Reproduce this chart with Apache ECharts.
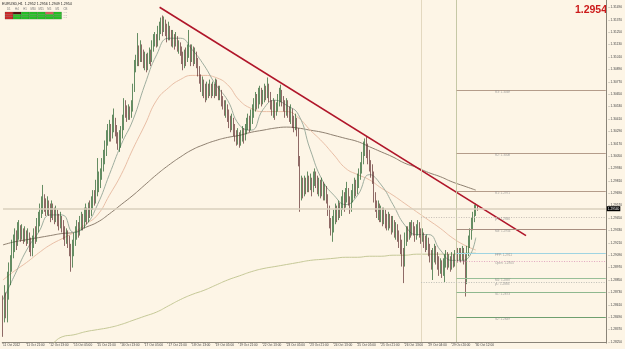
<!DOCTYPE html>
<html><head><meta charset="utf-8">
<script src="https://cdn.jsdelivr.net/npm/echarts@6/dist/echarts.min.js"></script>
<style>html,body{margin:0;padding:0;background:#fdf5e6;}#c{width:625px;height:349px;}</style>
</head><body><div id="c"></div>
<script>
// ---- DATA (prices in pips above 1.2800) ----
const xTickLabels = ["11 Oct 2012","11 Oct 21:00","12 Oct 13:00","15 Oct 05:00","15 Oct 21:00","16 Oct 13:00","17 Oct 05:00","17 Oct 21:00","18 Oct 13:00","19 Oct 05:00","19 Oct 21:00","22 Oct 13:00","23 Oct 05:00","23 Oct 21:00","24 Oct 13:00","25 Oct 05:00","25 Oct 21:00","26 Oct 13:00","29 Oct 04:00","29 Oct 20:00","30 Oct 12:00"];
const openFirst = 66;
const closes = [48,66,56,70,85,97,114,119,126,122,131,135,128,133,126,130,124,128,119,114,122,129,126,137,143,151,155,162,158,153,159,153,149,155,151,145,149,143,139,143,137,131,126,130,124,116,102,114,124,130,135,131,139,143,139,147,149,145,153,151,158,164,162,172,176,180,186,193,201,211,220,226,230,224,235,238,230,222,216,220,225,235,254,250,245,248,246,251,269,290,296,302,298,308,303,296,300,292,298,303,300,310,315,319,313,323,327,333,329,335,327,321,329,323,317,321,315,319,311,313,308,300,294,302,298,306,311,300,306,298,302,294,288,280,273,277,269,263,271,267,273,267,271,265,275,269,263,267,259,255,250,253,244,240,234,238,230,224,220,226,219,222,228,224,230,234,238,232,242,248,251,259,255,263,267,259,263,269,265,271,263,255,250,255,248,251,259,263,267,259,253,248,255,250,244,248,238,234,240,230,201,167,177,170,178,174,182,176,180,174,182,186,180,174,178,172,176,168,172,164,153,141,133,137,145,151,147,155,151,159,164,157,166,172,162,155,164,170,176,172,180,186,191,201,211,215,209,203,195,190,186,166,157,151,155,147,151,145,149,143,139,145,141,135,139,131,135,128,124,118,108,102,124,131,128,135,131,137,133,128,133,137,131,126,130,122,118,124,116,108,102,106,114,108,102,97,100,95,98,102,106,100,104,98,106,102,108,112,106,110,108,112,106,87,112,120,128,137,145,151,155,154];
const highs = [70,80,73,93,102,109,124,129,135,133,141,143,138,139,135,137,133,135,131,126,128,135,137,145,151,159,166,177,168,164,166,162,159,162,159,155,157,153,149,151,147,143,137,135,133,128,120,124,131,137,143,141,147,151,149,155,159,155,160,162,166,172,172,182,203,190,193,203,211,220,230,236,240,236,245,251,242,235,228,230,234,245,261,259,254,255,253,259,275,298,303,324,312,317,313,308,306,304,305,310,308,317,323,325,323,331,335,339,341,340,337,333,335,331,327,327,323,325,321,317,315,311,306,308,310,313,327,313,313,311,310,306,300,292,284,282,279,275,277,275,279,275,277,275,280,279,273,273,269,263,259,259,255,250,244,246,242,236,230,232,228,230,234,232,236,242,246,244,250,255,261,267,265,271,273,271,269,275,273,281,275,267,259,261,259,257,265,271,274,269,263,259,261,259,253,255,251,244,246,242,232,205,186,184,186,184,190,186,188,184,190,193,190,186,184,182,184,180,178,176,168,157,145,147,153,159,157,162,160,166,172,170,174,180,174,166,172,178,184,182,188,193,199,209,219,222,224,217,211,201,197,190,170,162,162,159,157,155,155,153,149,151,149,147,147,143,141,139,133,129,124,116,131,137,137,141,141,143,141,137,139,143,141,135,135,131,128,129,126,120,114,116,120,118,112,108,106,104,106,110,114,112,110,108,112,110,114,118,116,116,116,118,116,110,118,128,135,145,151,158,159,157];
const lows = [30,44,48,44,66,80,93,106,112,114,118,124,122,124,120,122,118,120,112,108,108,116,120,122,131,137,145,149,151,147,148,147,141,145,143,139,141,137,133,135,131,124,118,120,116,108,93,97,108,118,124,126,128,133,133,135,141,139,141,145,147,153,157,159,166,170,174,182,190,197,205,215,219,219,222,228,224,217,211,209,213,222,230,242,238,240,240,242,248,267,286,292,292,296,296,290,288,286,288,294,292,296,306,311,310,311,317,323,321,325,321,315,317,317,311,310,308,311,306,304,302,294,288,290,292,296,300,292,296,292,294,290,282,275,267,263,261,257,259,261,263,261,263,261,263,263,259,259,253,250,244,242,238,232,228,230,224,219,215,216,213,215,219,217,220,226,230,228,230,236,242,248,250,251,255,253,255,257,259,261,257,250,244,242,240,244,248,253,257,253,248,242,244,242,238,236,232,228,230,224,195,151,162,164,166,168,170,170,172,166,170,176,174,168,166,164,166,162,162,159,147,135,128,122,131,139,141,143,145,147,153,151,155,160,157,149,151,160,164,166,168,174,182,188,197,205,203,197,190,184,178,160,151,145,143,141,141,137,139,135,133,133,135,129,131,126,124,122,116,110,98,82,98,118,122,124,126,128,128,122,124,128,126,120,122,116,112,114,108,102,95,85,102,100,95,89,91,87,89,83,97,95,97,93,95,97,98,102,102,104,102,104,100,69,81,108,116,124,133,141,147,152];
// moving averages read every 8 bars
const maFast = [66,90,114,131,148,148,131,138,158,187,216,240,274,303,319,319,308,293,274,259,235,230,250,259,254,245,211,182,167,158,167,187,177,158,138,129,129,114,104,104,126];
const maMid  = [85,94,102,111,119,125,131,139,148,167,187,212,235,259,271,279,283,283,281,274,259,251,248,248,248,242,230,219,206,193,187,182,174,167,159,151,143,135,126,119,114];
const maSlow = [119,122,124,126,128,130,131,136,141,149,158,167,177,187,196,204,211,216,220,223,225,228,230,232,233,232,230,228,225,222,219,214,209,204,198,194,189,185,180,176,172];
const maLong = [2,7,12,17,22,30,32,35,37,39,42,46,50,54,60,66,71,75,80,85,89,93,96,98,100,102,104,105,106,107,107,108,108,109,109,110,110,110,110,111,111];
const trendBars = [106, 354];
const trendPrices = [1.3149, 1.2928];
const pivotNames  = ['R3','R2','R1','yH','M3','FPP','Open','M1','yL','S1','S2'];
const pivotValues = [1.3069,1.3008,1.2971,1.2946,1.2934,1.2911,1.2903,1.2887,1.2883,1.2873,1.2849];
const bid = 1.2954;
const quote = 'EURUSD,H1  1.2952 1.2956 1.2949 1.2954';
const tfNames = ['D1','H4','H1','M30','M15','M5','M1'];
const tfSignal = [['r','k','g','g','g','s','g'],['r','g','g','g','g','g','g'],['r','g','g','g','g','g','g']];

// ---- BUILD ----
const toPrice = p => +(1.28 + p / 10000).toFixed(5);
const N = 409;
const cats = Array.from({length: N}, (_, i) => String(i));
const candles = closes.map((c, i) => {
  const o = i === 0 ? openFirst : closes[i - 1];
  const h = Math.max(highs[i], o, c), l = Math.min(lows[i], o, c);
  return [toPrice(o), toPrice(c), toPrice(l), toPrice(h)];
});
const maIdx = maFast.map((_, k) => String(k * 8));
const maLine = vals => vals.map((v, k) => [maIdx[k], toPrice(v)]);

const pivotStyle = {
  R3:{c:'#b49c8a',t:'solid',s:'307'}, R2:{c:'#b49c8a',t:'solid',s:'307'}, R1:{c:'#b49c8a',t:'solid',s:'307'},
  yH:{c:'#c4bcb4',t:[1,1.5],s:'283'}, M3:{c:'#a88e80',t:'solid',s:'307'}, FPP:{c:'#9fd4e2',t:'solid',s:'307'},
  Open:{c:'#e2a6bf',t:[1,1.5],s:'307'}, M1:{c:'#98bf98',t:'solid',s:'307'}, yL:{c:'#bdbdb5',t:[1,1.5],s:'283'},
  S1:{c:'#8fb88f',t:'solid',s:'307'}, S2:{c:'#6f9f6f',t:'solid',s:'307'}
};
const FONT = 'Liberation Sans, Arial, sans-serif';
const sigColor = {r:'#d42b2b', k:'#5c1212', g:'#26c626', s:'#e06464'};

const graphics = [
  {type:'text', left:2, top:1.5, style:{text:quote, fontSize:3.6, fontFamily:FONT, fill:'#222'}},
  {type:'text', right:18, top:5, style:{text:bid.toFixed(4), fontSize:10.5, fontWeight:'bold', fontFamily:FONT, fill:'#cc1a1a'}}
];
tfNames.forEach((n, c) => {
  graphics.push({type:'text', x:5 + c*8.1 + 3.8, y:7.8, style:{text:n, fontSize:2.8, fontFamily:FONT, fill:'#777', align:'center'}});
  tfSignal.forEach((row, r) => {
    graphics.push({type:'rect', shape:{x:5 + c*8.1, y:12 + r*2.4, width:8, height:2.3},
      style:{fill:sigColor[row[c]], stroke:'rgba(40,40,40,0.45)', lineWidth:0.4}});
  });
});
graphics.push({type:'text', x:63.5, y:7.8, style:{text:'CB', fontSize:2.8, fontFamily:FONT, fill:'#777'}});
['0.3','0.2','0.1'].forEach((t, r) => graphics.push({type:'text', x:63.5, y:11.8 + r*2.4, style:{text:t, fontSize:2.4, fontFamily:FONT, fill:'#aaa'}}));

const pivotMarks = pivotNames.map((n,k)=>[
  {coord:[pivotStyle[n].s, pivotValues[k]], lineStyle:{color:pivotStyle[n].c, width:1, type:pivotStyle[n].t}, label:{show:false}},
  {coord:['408', pivotValues[k]]}
]);
pivotMarks.push([
  {coord:['0', bid], lineStyle:{color:'#d9cfbd', width:1.6, type:'solid'},
    label:{show:true, position:'end', distance:1, formatter:bid.toFixed(5), backgroundColor:'#000', color:'#fff',
      fontSize:3.2, fontFamily:FONT, padding:[1,1]}},
  {coord:['408', bid]}
]);

const chart = echarts.init(document.getElementById('c'), null, {renderer:'canvas'});
chart.setOption({
  animation: false,
  backgroundColor: '#fdf5e6',
  grid: {left:0, right:14, top:0, bottom:7, containLabel:false},
  graphic: graphics,
  xAxis: {
    type:'category', data:cats, boundaryGap:true,
    axisLine:{show:true, lineStyle:{color:'#8a8478', width:1}},
    axisTick:{show:true, length:1.5, interval:(i)=>i%16===0 && i/16 < xTickLabels.length, lineStyle:{color:'#8a8478'}},
    axisLabel:{interval:(i)=>i%16===0 && i/16 < xTickLabels.length, formatter:(v,i)=>xTickLabels[i/16]||'',
      fontSize:3.2, fontFamily:FONT, color:'#444', align:'left', margin:1.2},
    splitLine:{show:false}
  },
  yAxis: {
    type:'value', position:'right', min:1.2825, max:1.3156, interval:0.0003, scale:true,
    axisLine:{show:true, lineStyle:{color:'#8a8478', width:1}},
    axisTick:{show:false}, splitLine:{show:false},
    axisLabel:{fontSize:3.2, fontFamily:FONT, color:'#444', margin:2,
      formatter:(v)=>{const k=Math.round((v-1.2825)/0.0003); return k%4===0 ? '- ' + v.toFixed(5) : '';}}
  },
  series: [
    {type:'line', name:'maLong', data:maLine(maLong), smooth:true, showSymbol:false, clip:true, z:2,
      lineStyle:{color:'#c5c897', width:1}},
    {type:'line', name:'maSlow', data:maLine(maSlow), smooth:true, showSymbol:false, clip:true, z:2,
      lineStyle:{color:'#8e8070', width:1}},
    {type:'line', name:'maMid', data:maLine(maMid), smooth:true, showSymbol:false, clip:true, z:2,
      lineStyle:{color:'#e9bfa6', width:1}},
    {type:'line', name:'maFast', data:maLine(maFast), smooth:true, showSymbol:false, clip:true, z:2,
      lineStyle:{color:'#9fae9f', width:1}},
    {type:'candlestick', data:candles, barWidth:1.3, z:3,
      itemStyle:{color:'#22602a', color0:'#5e2e2e', borderColor:'#22602a', borderColor0:'#5e2e2e', borderWidth:0.7},
      markLine:{symbol:['none','none'], silent:true, animation:false,
        data:[
          {xAxis:'283', lineStyle:{color:'#e3d8bf', width:1, type:'solid'}, label:{show:false}},
          {xAxis:'307', lineStyle:{color:'#c6c8a6', width:1, type:'solid'}, label:{show:false}}
        ]}
    },
    {type:'line', name:'trend', data:trendBars.map((b,k)=>[String(b), trendPrices[k]]), showSymbol:false, z:4,
      lineStyle:{color:'#b0162a', width:1.6},
      markLine:{symbol:['none','none'], silent:true, animation:false, label:{show:false}, data: pivotMarks}
    },
    {type:'scatter', name:'pivotLabels', symbol:'rect', symbolSize:0.1, itemStyle:{color:'rgba(0,0,0,0)'}, z:5,
      data: pivotNames.map((n,k)=>({value:['333', pivotValues[k]],
        label:{show:true, position:[0,0.6], align:'left', verticalAlign:'top', formatter:n + ': ' + pivotValues[k].toFixed(4),
          fontSize:3.1, fontFamily:FONT, color:'#8a8a8a'}}))
    }
  ]
});
</script>
</body></html>
